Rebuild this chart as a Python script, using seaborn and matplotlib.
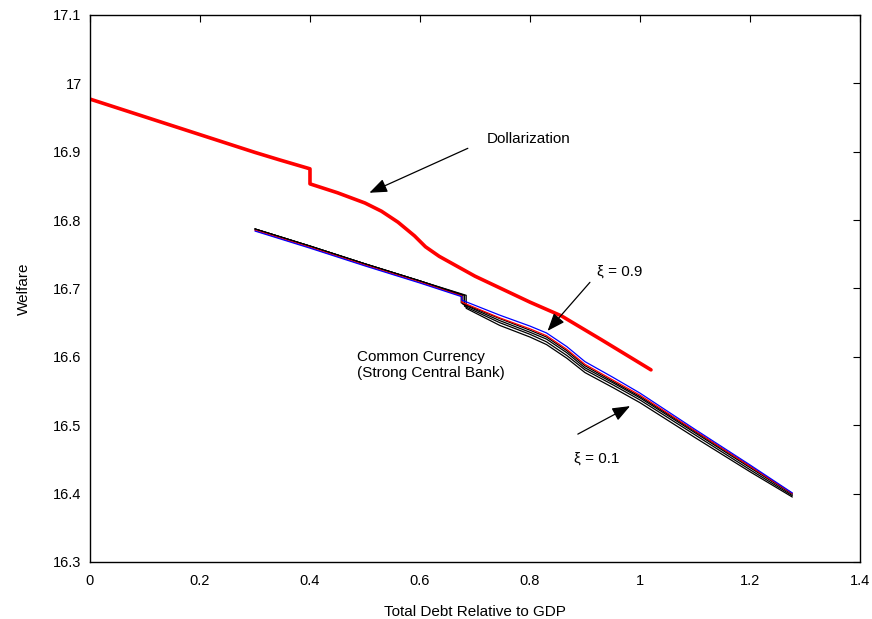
import matplotlib
matplotlib.use("Agg")
import matplotlib.pyplot as plt
import seaborn as sns

# ---------------- data ----------------
# Dollarization (thick red)
dollar_x = [0.0, 0.1, 0.2, 0.3, 0.345, 0.4, 0.4, 0.45, 0.5, 0.53, 0.56, 0.59, 0.61, 0.635,
            0.7, 0.8, 0.857, 0.93, 1.02]
dollar_y = [16.977, 16.951, 16.925, 16.899, 16.888, 16.875, 16.853, 16.840, 16.825, 16.813, 16.797,
            16.777, 16.761, 16.747, 16.718, 16.680, 16.660, 16.625, 16.581]

# Common currency, xi = 0.9 (blue)
cc_blue_x = [0.3, 0.4, 0.5, 0.6, 0.676, 0.676, 0.745, 0.8, 0.83, 0.867, 0.9, 0.951, 1.0, 1.1, 1.2, 1.277]
cc_blue_y = [16.784, 16.759, 16.733, 16.708, 16.688, 16.683, 16.661, 16.645, 16.635, 16.615, 16.593,
             16.570, 16.547, 16.494, 16.442, 16.401]

# Common currency, intermediate xi (thin red)
cc_red_x = [0.3, 0.4, 0.5, 0.6, 0.676, 0.676, 0.745, 0.8, 0.83, 0.867, 0.9, 0.951, 1.0, 1.1, 1.2, 1.277]
cc_red_y = [16.785, 16.760, 16.734, 16.709, 16.689, 16.680, 16.657, 16.641, 16.631, 16.611, 16.589,
            16.566, 16.544, 16.492, 16.440, 16.400]

# Common currency, lower xi (black); first one is xi = 0.1
cc_black_x = [
    [0.3, 0.4, 0.5, 0.6, 0.684, 0.684, 0.745, 0.8, 0.83, 0.867, 0.9, 0.951, 1.0, 1.1, 1.2, 1.277],
    [0.3, 0.4, 0.5, 0.6, 0.681, 0.681, 0.745, 0.8, 0.83, 0.867, 0.9, 0.951, 1.0, 1.1, 1.2, 1.277],
    [0.3, 0.4, 0.5, 0.6, 0.678, 0.678, 0.745, 0.8, 0.83, 0.867, 0.9, 0.951, 1.0, 1.1, 1.2, 1.277],
    [0.3, 0.4, 0.5, 0.6, 0.675, 0.675, 0.745, 0.8, 0.83, 0.867, 0.9, 0.951, 1.0, 1.1, 1.2, 1.277],
]
cc_black_y = [
    [16.787, 16.762, 16.736, 16.711, 16.690, 16.671, 16.646, 16.629, 16.618, 16.598, 16.577,
     16.555, 16.533, 16.482, 16.432, 16.395],
    [16.787, 16.762, 16.736, 16.711, 16.690, 16.674, 16.650, 16.633, 16.622, 16.602, 16.581,
     16.559, 16.537, 16.486, 16.435, 16.397],
    [16.787, 16.762, 16.736, 16.711, 16.690, 16.677, 16.653, 16.636, 16.626, 16.606, 16.584,
     16.562, 16.540, 16.489, 16.438, 16.399],
    [16.787, 16.762, 16.736, 16.711, 16.690, 16.679, 16.656, 16.639, 16.629, 16.609, 16.587,
     16.564, 16.542, 16.491, 16.440, 16.400],
]

xticks = [0, 0.2, 0.4, 0.6, 0.8, 1.0, 1.2, 1.4]
xtick_labels = ["0", "0.2", "0.4", "0.6", "0.8", "1", "1.2", "1.4"]
yticks = [16.3, 16.4, 16.5, 16.6, 16.7, 16.8, 16.9, 17.0, 17.1]
ytick_labels = ["16.3", "16.4", "16.5", "16.6", "16.7", "16.8", "16.9", "17", "17.1"]

# ---------------- style ----------------
sns.set_theme(style="white")
plt.rcParams["font.family"] = ["Liberation Sans", "DejaVu Sans"]

fig = plt.figure(figsize=(8.72, 6.19), dpi=100)
ax = fig.add_axes([0.1032, 0.0921, 0.8830, 0.8837])

# black lines first (underneath)
for bx, by in zip(cc_black_x, cc_black_y):
    sns.lineplot(x=bx, y=by, ax=ax, color="black", linewidth=0.9, sort=False, estimator=None)
sns.lineplot(x=cc_red_x, y=cc_red_y, ax=ax, color="#ff0000", linewidth=0.9, sort=False, estimator=None)
sns.lineplot(x=cc_blue_x, y=cc_blue_y, ax=ax, color="#0000ff", linewidth=0.9, sort=False, estimator=None)
sns.lineplot(x=dollar_x, y=dollar_y, ax=ax, color="#ff0000", linewidth=2.6, sort=False, estimator=None)

ax.set_xlim(0, 1.4)
ax.set_ylim(16.3, 17.1)
ax.set_xticks(xticks)
ax.set_xticklabels(xtick_labels)
ax.set_yticks(yticks)
ax.set_yticklabels(ytick_labels)
ax.tick_params(axis="both", direction="in", length=5, width=0.8, color="black",
               top=True, right=True, labelsize=10.5, labelcolor="black")
ax.tick_params(axis="x", pad=9)
ax.tick_params(axis="y", pad=6)
for s in ax.spines.values():
    s.set_visible(True)
    s.set_color("black")
    s.set_linewidth(1.0)

ax.set_xlabel("Total Debt Relative to GDP", fontsize=11, color="black", labelpad=12)
ax.set_ylabel("Welfare", fontsize=11, color="black", labelpad=16)

arrow = dict(arrowstyle="-|>,head_length=0.9,head_width=0.35", color="black", lw=0.9,
             shrinkA=0, shrinkB=0)

ax.annotate("", xy=(0.508, 16.840), xytext=(0.687, 16.905), arrowprops=arrow)
ax.text(0.721, 16.918, "Dollarization", fontsize=11, ha="left", va="center", color="black")

ax.annotate("", xy=(0.832, 16.638), xytext=(0.909, 16.709), arrowprops=arrow)
ax.text(0.922, 16.725, "ξ = 0.9", fontsize=11, ha="left", va="center", color="black")

ax.text(0.486, 16.588, "Common Currency\n(Strong Central Bank)", fontsize=11, ha="left", va="center",
        color="black", linespacing=1.25)

ax.annotate("", xy=(0.982, 16.528), xytext=(0.887, 16.487), arrowprops=arrow)
ax.text(0.880, 16.451, "ξ = 0.1", fontsize=11, ha="left", va="center", color="black")

fig.savefig("out.png", dpi=100)
